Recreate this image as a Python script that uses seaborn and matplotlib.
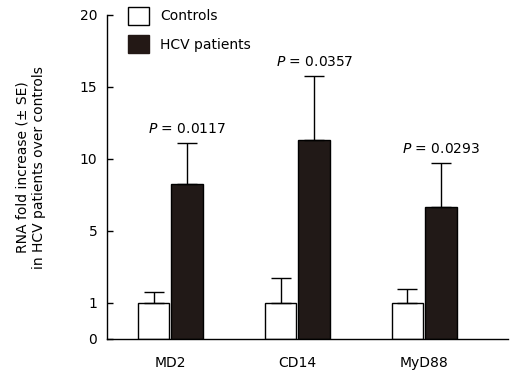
import numpy as np
import pandas as pd
import matplotlib
matplotlib.use("Agg")
import matplotlib.pyplot as plt
import matplotlib.patches as mpatches
import seaborn as sns

genes = ["MD2", "CD14", "MyD88"]
groups = ["Controls", "HCV patients"]
controls_mean = [1.0, 1.0, 1.0]
controls_se = [0.59, 1.37, 0.79]
hcv_mean = [8.24, 11.32, 6.67]
hcv_se = [2.86, 4.42, 3.03]
p_values = ["0.0117", "0.0357", "0.0293"]
yticks = [0, 1, 5, 10, 15, 20]

df = pd.DataFrame({
    "gene": genes * 2,
    "group": [groups[0]] * 3 + [groups[1]] * 3,
    "value": controls_mean + hcv_mean,
    "se": controls_se + hcv_se,
})

# the y axis of the original is stretched at the bottom
knots_data = [0, 1, 5, 20]
knots_disp = [0, 36, 108, 324]
def fwd(v):
    return np.interp(v, knots_data, knots_disp)
def inv(v):
    return np.interp(v, knots_disp, knots_data)

sns.set_style("ticks")
plt.rcParams["font.family"] = ["DejaVu Sans"]
plt.rcParams["text.color"] = "black"
plt.rcParams["xtick.color"] = "black"
plt.rcParams["ytick.color"] = "black"
plt.rcParams["axes.labelcolor"] = "black"

fig = plt.figure(figsize=(5.24, 3.8), dpi=100)
ax = fig.add_axes([107 / 524, 41 / 380, 401 / 524, 324 / 380])

dark = "#231815"
sns.barplot(data=df, x="gene", y="value", hue="group", order=genes,
            hue_order=groups, palette=["white", dark], width=0.53, gap=0.06,
            edgecolor="black", linewidth=1, errorbar=None, legend=False, ax=ax)

ax.set_yscale("function", functions=(fwd, inv))
ax.set_ylim(0, 20)
ax.set_xlim(-0.5, 2.66)

# upward-only error bars and P labels on top of each bar
for i, grp in enumerate(groups):
    sub = df[df["group"] == grp].set_index("gene").loc[genes]
    bars = ax.containers[i]
    xs = [b.get_x() + b.get_width() / 2 for b in bars]
    ax.errorbar(xs, sub["value"], yerr=[np.zeros(3), sub["se"]], fmt="none",
                ecolor="black", elinewidth=1, capsize=7, capthick=1, zorder=3)
    if grp == "HCV patients":
        for x, top, p in zip(xs, sub["value"] + sub["se"], p_values):
            ax.annotate(r"$\it{P}$ = " + p, (x, top), xytext=(0, 5),
                        textcoords="offset points", ha="center", va="bottom",
                        fontsize=10)

ax.set_yticks(yticks)
ax.set_yticklabels([str(t) for t in yticks])
ax.tick_params(axis="y", direction="in", length=4.5, width=1, labelsize=10, pad=7)
ax.tick_params(axis="x", length=0, labelsize=10, pad=12)
ax.set_xlabel("")
ax.set_ylabel("RNA fold increase (± SE)\nin HCV patients over controls", fontsize=10)
ax.yaxis.set_label_coords(-0.152, 0.53)
for s in ["top", "right"]:
    ax.spines[s].set_visible(False)
for s in ["left", "bottom"]:
    ax.spines[s].set_linewidth(1)
    ax.spines[s].set_color("black")

handles = [mpatches.Patch(facecolor="white", edgecolor="black", linewidth=1),
           mpatches.Patch(facecolor=dark, edgecolor=dark, linewidth=1)]
fig.legend(handles, groups, loc="upper left", bbox_to_anchor=(128 / 524, 1 - 7 / 380),
           frameon=False, fontsize=10, handlelength=1.5, handleheight=1.6,
           borderpad=0, borderaxespad=0, labelspacing=0.75, handletextpad=0.8)

fig.savefig("out.png", dpi=100)
